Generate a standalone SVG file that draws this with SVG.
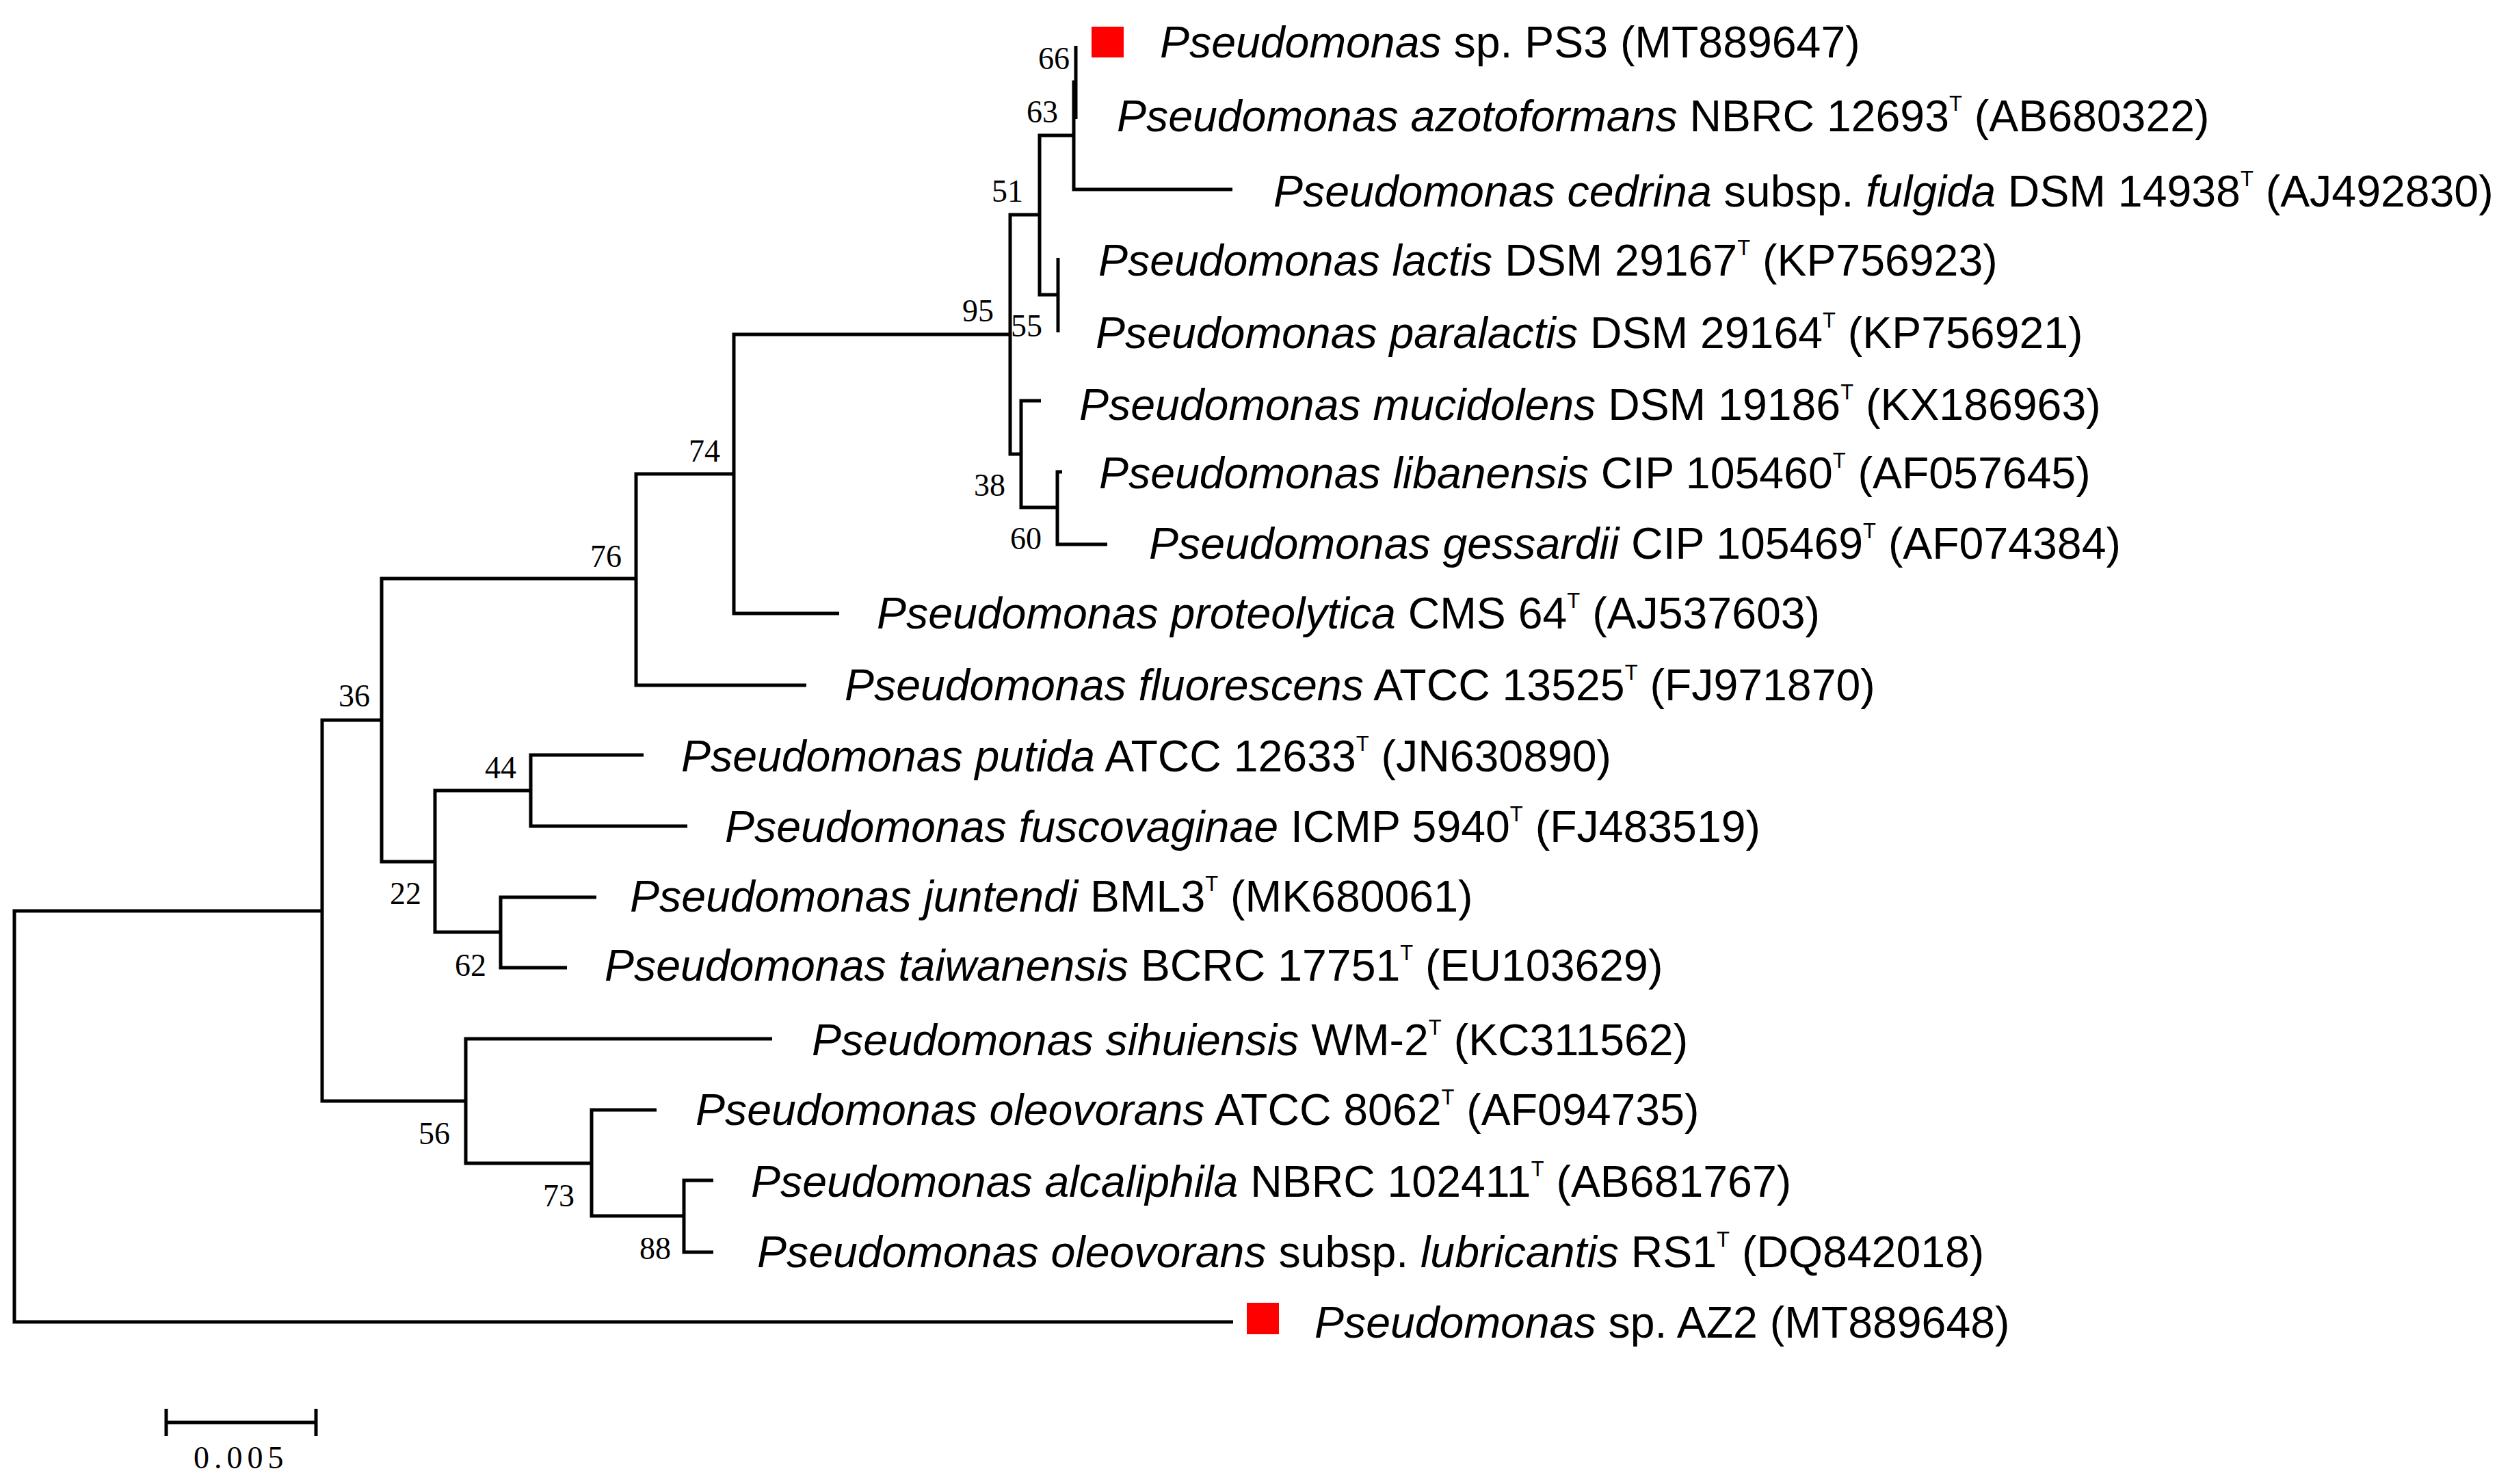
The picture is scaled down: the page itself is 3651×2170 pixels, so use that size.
<svg xmlns="http://www.w3.org/2000/svg" width="3651" height="2170" viewBox="0 0 3651 2170">
<style>
.br{fill:none;stroke:#000;stroke-width:5;stroke-linejoin:miter;stroke-linecap:butt}
.lf{font-family:"Liberation Sans",Arial,sans-serif;font-size:64.4px;fill:#000}
.it{font-style:italic}
.sup{font-size:31px}
.bs{font-family:"Liberation Serif","Times New Roman",serif;font-size:46px;fill:#000;text-anchor:end}
.mk{fill:#ff0000}
</style>
<rect width="3651" height="2170" fill="#fff"/>
<g id="connectors">
<path class="br" d="M471,1332 H21 V1933 H1803"/>
<path class="br" d="M558,1053 H471 V1610 H681"/>
<path class="br" d="M930,846 H558 V1260 H636"/>
<path class="br" d="M1073,693 H930 V1002 H1179"/>
<path class="br" d="M1477,489 H1073 V897 H1227"/>
<path class="br" d="M1520,314 H1477 V664 H1493"/>
<path class="br" d="M1570,198 H1520 V431 H1547"/>
<path class="br" d="M1573,120 H1570 V277 H1802"/>
<path class="br" d="M1573,67 V174"/>
<path class="br" d="M1547,377 V486"/>
<path class="br" d="M1522,586 H1493 V742 H1546"/>
<path class="br" d="M1553,690 H1546 V796 H1619"/>
<path class="br" d="M776,1156 H636 V1363 H732"/>
<path class="br" d="M941,1104 H776 V1208 H1005"/>
<path class="br" d="M872,1312 H732 V1415 H829"/>
<path class="br" d="M1129,1519 H681 V1701 H865"/>
<path class="br" d="M960,1623 H865 V1778 H1000"/>
<path class="br" d="M1043,1726 H1000 V1831 H1043"/>
</g>
<g id="bootstrap">
<text class="bs" x="1564" y="101">66</text>
<text class="bs" x="1547" y="179">63</text>
<text class="bs" x="1496" y="295">51</text>
<text class="bs" x="1453" y="470">95</text>
<text class="bs" x="1524" y="492">55</text>
<text class="bs" x="1470" y="725">38</text>
<text class="bs" x="1523" y="803">60</text>
<text class="bs" x="1053" y="675">74</text>
<text class="bs" x="909" y="829">76</text>
<text class="bs" x="541" y="1033">36</text>
<text class="bs" x="755" y="1138">44</text>
<text class="bs" x="616" y="1322">22</text>
<text class="bs" x="711" y="1427">62</text>
<text class="bs" x="658" y="1673">56</text>
<text class="bs" x="840" y="1764">73</text>
<text class="bs" x="981" y="1841">88</text>
</g>
<g id="leaf-PS3">
<rect class="mk" x="1596" y="39" width="47" height="45"/>
<text class="lf" x="1696" y="84"><tspan class="it">Pseudomonas</tspan> sp. PS3 (MT889647)</text>
</g>
<g id="leaf-azotoformans">
<text class="lf" x="1633" y="192"><tspan class="it">Pseudomonas azotoformans</tspan> NBRC 12693<tspan class="sup" dy="-30">T</tspan><tspan dy="30"> (AB680322)</tspan></text>
</g>
<g id="leaf-cedrina">
<text class="lf" x="1862" y="302"><tspan class="it">Pseudomonas cedrina</tspan> subsp. <tspan class="it">fulgida</tspan> DSM 14938<tspan class="sup" dy="-30">T</tspan><tspan dy="30"> (AJ492830)</tspan></text>
</g>
<g id="leaf-lactis">
<text class="lf" x="1606" y="403"><tspan class="it">Pseudomonas lactis</tspan> DSM 29167<tspan class="sup" dy="-30">T</tspan><tspan dy="30"> (KP756923)</tspan></text>
</g>
<g id="leaf-paralactis">
<text class="lf" x="1602" y="509"><tspan class="it">Pseudomonas paralactis</tspan> DSM 29164<tspan class="sup" dy="-30">T</tspan><tspan dy="30"> (KP756921)</tspan></text>
</g>
<g id="leaf-mucidolens">
<text class="lf" x="1578" y="614"><tspan class="it">Pseudomonas mucidolens</tspan> DSM 19186<tspan class="sup" dy="-30">T</tspan><tspan dy="30"> (KX186963)</tspan></text>
</g>
<g id="leaf-libanensis">
<text class="lf" x="1607" y="714"><tspan class="it">Pseudomonas libanensis</tspan> CIP 105460<tspan class="sup" dy="-30">T</tspan><tspan dy="30"> (AF057645)</tspan></text>
</g>
<g id="leaf-gessardii">
<text class="lf" x="1680" y="817"><tspan class="it">Pseudomonas gessardii</tspan> CIP 105469<tspan class="sup" dy="-30">T</tspan><tspan dy="30"> (AF074384)</tspan></text>
</g>
<g id="leaf-proteolytica">
<text class="lf" x="1282" y="919"><tspan class="it">Pseudomonas proteolytica</tspan> CMS 64<tspan class="sup" dy="-30">T</tspan><tspan dy="30"> (AJ537603)</tspan></text>
</g>
<g id="leaf-fluorescens">
<text class="lf" x="1235" y="1024"><tspan class="it">Pseudomonas fluorescens</tspan> ATCC 13525<tspan class="sup" dy="-30">T</tspan><tspan dy="30"> (FJ971870)</tspan></text>
</g>
<g id="leaf-putida">
<text class="lf" x="996" y="1128"><tspan class="it">Pseudomonas putida</tspan> ATCC 12633<tspan class="sup" dy="-30">T</tspan><tspan dy="30"> (JN630890)</tspan></text>
</g>
<g id="leaf-fuscovaginae">
<text class="lf" x="1060" y="1231"><tspan class="it">Pseudomonas fuscovaginae</tspan> ICMP 5940<tspan class="sup" dy="-30">T</tspan><tspan dy="30"> (FJ483519)</tspan></text>
</g>
<g id="leaf-juntendi">
<text class="lf" x="921" y="1333"><tspan class="it">Pseudomonas juntendi</tspan> BML3<tspan class="sup" dy="-30">T</tspan><tspan dy="30"> (MK680061)</tspan></text>
</g>
<g id="leaf-taiwanensis">
<text class="lf" x="884" y="1434"><tspan class="it">Pseudomonas taiwanensis</tspan> BCRC 17751<tspan class="sup" dy="-30">T</tspan><tspan dy="30"> (EU103629)</tspan></text>
</g>
<g id="leaf-sihuiensis">
<text class="lf" x="1187" y="1543"><tspan class="it">Pseudomonas sihuiensis</tspan> WM-2<tspan class="sup" dy="-30">T</tspan><tspan dy="30"> (KC311562)</tspan></text>
</g>
<g id="leaf-oleovorans">
<text class="lf" x="1017" y="1645"><tspan class="it">Pseudomonas oleovorans</tspan> ATCC 8062<tspan class="sup" dy="-30">T</tspan><tspan dy="30"> (AF094735)</tspan></text>
</g>
<g id="leaf-alcaliphila">
<text class="lf" x="1098" y="1750"><tspan class="it">Pseudomonas alcaliphila</tspan> NBRC 102411<tspan class="sup" dy="-30">T</tspan><tspan dy="30"> (AB681767)</tspan></text>
</g>
<g id="leaf-lubricantis">
<text class="lf" x="1107" y="1853"><tspan class="it">Pseudomonas oleovorans</tspan> subsp. <tspan class="it">lubricantis</tspan> RS1<tspan class="sup" dy="-30">T</tspan><tspan dy="30"> (DQ842018)</tspan></text>
</g>
<g id="leaf-AZ2">
<rect class="mk" x="1823" y="1905" width="47" height="46"/>
<text class="lf" x="1922" y="1956"><tspan class="it">Pseudomonas</tspan> sp. AZ2 (MT889648)</text>
</g>
<g id="scale-bar">
<path class="br" d="M243,2060 V2100 M243,2080 H462 M462,2060 V2100"/>
<text x="283" y="2147" style="font-family:'Liberation Serif','Times New Roman',serif;font-size:46px;letter-spacing:7px">0.005</text>
</g>
</svg>
